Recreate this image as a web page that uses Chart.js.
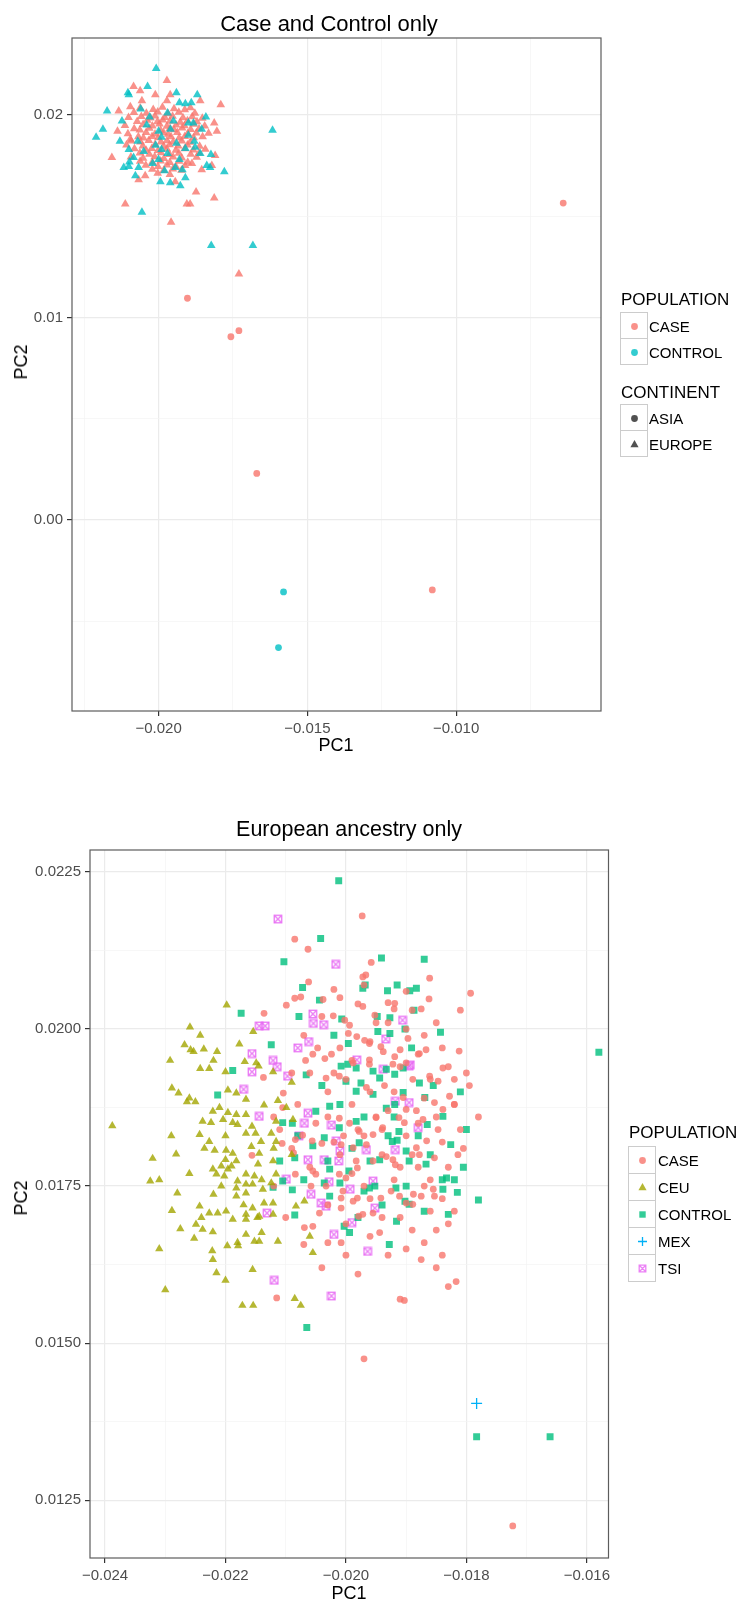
<!DOCTYPE html>
<html>
<head>
<meta charset="utf-8">
<script src="https://cdn.jsdelivr.net/npm/chart.js@4.4.0/dist/chart.umd.min.js"></script>
<style>
  html, body { margin: 0; padding: 0; background: #fff; }
  body { width: 747px; height: 1604px; position: relative; overflow: hidden;
         font-family: "Liberation Sans", Arial, sans-serif; }
  canvas { position: absolute; left: 0; }
  .txt { position: absolute; white-space: nowrap; line-height: 1; color: #000; }
  .ctr { transform: translate(-50%, -50%); }
  .vmid { transform: translateY(-50%); }
  .rot { transform: translate(-50%, -50%) rotate(-90deg); }
  .key { position: absolute; box-sizing: border-box; border: 1px solid #CCCCCC; background: #fff; }
  .key svg { position: absolute; left: 0; top: 0; }
</style>
</head>
<body>
<canvas id="cc" width="747" height="800" style="top:0"></canvas>
<canvas id="eu" width="747" height="804" style="top:800px"></canvas>

<div class="txt ctr" style="left:329px; top:24px; font-size:22px;">Case and Control only</div>
<div class="txt ctr" style="left:336px; top:745px; font-size:18px;">PC1</div>
<div class="txt rot" style="left:21px; top:362px; font-size:18px;">PC2</div>

<div class="txt ctr" style="left:349px; top:830px; font-size:21.5px;">European ancestry only</div>
<div class="txt ctr" style="left:349px; top:1593px; font-size:18px;">PC1</div>
<div class="txt rot" style="left:21px; top:1198px; font-size:18px;">PC2</div>

<div id="legends"></div>

<script>
// ---------- Case and Control only ----------
const ccXTicks = [-0.020, -0.015, -0.010];
const ccYTicks = [0.00, 0.01, 0.02];

// cases, European continent (triangles)
const ccCaseEurope = [
  [-0.01972,0.0217],[-0.02084,0.0214],[-0.02062,0.0212],[-0.02011,0.0210],[-0.01961,0.0210],
  [-0.01972,0.0207],[-0.0186,0.0207],[-0.01791,0.0205],[-0.02134,0.0202],[-0.02095,0.0204],
  [-0.02056,0.0207],[-0.01813,0.0196],[-0.01804,0.0192],[-0.01832,0.0191],[-0.02138,0.0192],
  [-0.02157,0.0179],[-0.02095,0.0188],[-0.0181,0.0180],[-0.01821,0.0175],[-0.01888,0.0176],
  [-0.01855,0.0173],[-0.02067,0.0168],[-0.02045,0.0170],[-0.01944,0.0167],[-0.01874,0.0162],
  [-0.01813,0.0159],[-0.02112,0.0156],[-0.01905,0.0156],[-0.01894,0.0156],[-0.01958,0.0147],
  [-0.0173,0.01215],
  [-0.02062,0.02034],[-0.02018,0.02027],[-0.01987,0.02038],[-0.01948,0.02031],[-0.01912,0.02026],[-0.01893,0.02036],
  [-0.02083,0.02012],[-0.02041,0.02008],[-0.02003,0.02015],[-0.01968,0.02006],[-0.01932,0.02013],[-0.01878,0.02009],
  [-0.02101,0.01987],[-0.02058,0.01992],[-0.02027,0.01985],[-0.02012,0.01995],[-0.01979,0.01988],[-0.01953,0.01994],
  [-0.01918,0.01986],[-0.01887,0.01991],[-0.01853,0.01984],
  [-0.02072,0.01968],[-0.02038,0.01974],[-0.02004,0.01966],[-0.01986,0.01975],[-0.01962,0.01969],[-0.01927,0.01964],
  [-0.01903,0.01972],[-0.01871,0.01966],
  [-0.02113,0.01948],[-0.02052,0.01953],[-0.02021,0.01946],[-0.01997,0.01955],[-0.01972,0.01944],[-0.01941,0.01951],
  [-0.01913,0.01947],[-0.01882,0.01954],[-0.01845,0.01946],
  [-0.02082,0.01932],[-0.02063,0.01926],[-0.02031,0.01934],[-0.01993,0.01925],[-0.01962,0.01933],[-0.01948,0.01927],
  [-0.01921,0.01935],[-0.01892,0.01928],[-0.01864,0.01932],
  [-0.02103,0.01907],[-0.02042,0.01914],[-0.02012,0.01906],[-0.01983,0.01912],[-0.01968,0.01905],[-0.01937,0.01913],
  [-0.01902,0.01908],[-0.01873,0.01911],
  [-0.02068,0.01893],[-0.02051,0.01886],[-0.02022,0.01894],[-0.02001,0.01887],[-0.01958,0.01892],[-0.01931,0.01886],
  [-0.01912,0.01894],[-0.01882,0.01887],[-0.01852,0.01893],
  [-0.02092,0.01872],[-0.02061,0.01866],[-0.02033,0.01874],[-0.01992,0.01867],[-0.01972,0.01873],[-0.01951,0.01866],
  [-0.01922,0.01871],[-0.01894,0.01865],
  [-0.02108,0.01852],[-0.02053,0.01847],[-0.02012,0.01854],[-0.01983,0.01846],[-0.01963,0.01853],[-0.01934,0.01847],
  [-0.01903,0.01852],[-0.01862,0.01845],
  [-0.02081,0.01833],[-0.02042,0.01826],[-0.02023,0.01834],[-0.02002,0.01825],[-0.01972,0.01832],[-0.01942,0.01826],
  [-0.01912,0.01833],[-0.01883,0.01827],[-0.01843,0.01831],
  [-0.02063,0.01812],[-0.02031,0.01806],[-0.01992,0.01813],[-0.01963,0.01805],[-0.01932,0.01811],[-0.01892,0.01806],
  [-0.01864,0.01812],
  [-0.02093,0.01792],[-0.02052,0.01786],[-0.02013,0.01794],[-0.01982,0.01785],[-0.01951,0.01793],[-0.01922,0.01787],
  [-0.01872,0.01791],
  [-0.02062,0.01772],[-0.02021,0.01767],[-0.01993,0.01773],[-0.01962,0.01765],[-0.01931,0.01772],[-0.01902,0.01766],
  [-0.02043,0.01752],[-0.02002,0.01746],[-0.01972,0.01753],[-0.01942,0.01745],[-0.01911,0.01751],
  [-0.02021,0.01732],[-0.01983,0.01726],[-0.01952,0.01733],[-0.01923,0.01727],
  [-0.02003,0.01712],[-0.01962,0.01706]
];
// cases, Asian continent (circles)
const ccCaseAsia = [
  [-0.0064,0.01565],[-0.01903,0.01095],[-0.0173,0.00935],[-0.01757,0.00905],
  [-0.0167,0.0023],[-0.0108,-0.00345]
];
// controls, European continent (triangles)
const ccControlEurope = [
  [-0.02008,0.0223],[-0.02037,0.0214],[-0.0210,0.0210],[-0.0194,0.0211],[-0.0187,0.0210],
  [-0.0193,0.0206],[-0.0191,0.02055],[-0.0189,0.0206],[-0.02173,0.0202],[-0.02123,0.0197],
  [-0.02187,0.0193],[-0.0221,0.0189],[-0.01841,0.0199],[-0.01883,0.0196],[-0.0200,0.0192],
  [-0.01877,0.0184],[-0.0191,0.01835],[-0.0186,0.0181],[-0.01824,0.01805],[-0.02084,0.0179],
  [-0.01838,0.0175],[-0.01827,0.0174],[-0.02117,0.0174],[-0.0210,0.01745],[-0.02067,0.0174],
  [-0.01779,0.0172],[-0.01944,0.0174],[-0.0191,0.0169],[-0.01994,0.0167],[-0.01961,0.01665],
  [-0.01927,0.0165],[-0.02078,0.0170],[-0.02056,0.0152],[-0.02103,0.0211],[-0.02098,0.01768],
  [-0.0204,0.0195],[-0.0199,0.0189],[-0.0196,0.0193],[-0.0201,0.0185],[-0.0205,0.0182],
  [-0.0194,0.0186],[-0.0190,0.0190],[-0.0197,0.0181],[-0.0200,0.0178],[-0.0193,0.0178],
  [-0.0207,0.0187],[-0.0203,0.0199],[-0.0197,0.0201],[-0.0188,0.0187],[-0.0195,0.0197],
  [-0.0202,0.0176],[-0.0198,0.01725],[-0.0210,0.0183],[-0.0192,0.0173],[-0.01855,0.0193],
  [-0.0206,0.0203],[-0.0213,0.0187],[-0.0190,0.0196],[-0.0199,0.0183],
  [-0.01617,0.01925],[-0.01823,0.01355],[-0.01683,0.01355]
];
// controls, Asian continent (circles)
const ccControlAsia = [
  [-0.0158,-0.00355],[-0.01597,-0.0063]
];

// ---------- European ancestry only ----------
const euXTicks = [-0.024, -0.022, -0.020, -0.018, -0.016];
const euYTicks = [0.0125, 0.0150, 0.0175, 0.0200, 0.0225];

const euCase = [
  [-0.02085,0.02143],[-0.02063,0.02127],[-0.02062,0.02075],[-0.02075,0.02051],[-0.02085,0.02049],
  [-0.02099,0.02038],[-0.0202,0.02063],[-0.02038,0.02047],[-0.02136,0.02025],[-0.02021,0.02021],
  [-0.02067,0.0195],[-0.02047,0.0197],[-0.02055,0.0196],[-0.02024,0.0196],[-0.02035,0.01953],
  [-0.02137,0.01923],[-0.02104,0.01898],
  [-0.01973,0.0218],[-0.01958,0.02106],[-0.01972,0.02083],[-0.01967,0.02086],[-0.0193,0.02042],
  [-0.01919,0.02041],[-0.01862,0.02048],[-0.01861,0.02081],[-0.01875,0.02032],[-0.0192,0.02032],
  [-0.01972,0.02036],[-0.01952,0.02022],[-0.01793,0.02057],[-0.01812,0.01965],[-0.01961,0.01977],
  [-0.01969,0.01982],[-0.01942,0.01972],[-0.01938,0.01964],[-0.0191,0.01967],[-0.01919,0.01956],
  [-0.02002,0.02014],[-0.01994,0.02006],[-0.01996,0.01993],[-0.01982,0.01988],[-0.01897,0.01985],
  [-0.01878,0.01961],[-0.01867,0.01967],[-0.01961,0.01951],
  [-0.02105,0.01875],[-0.0211,0.0184],[-0.02084,0.01824],[-0.02072,0.01831],[-0.02106,0.01818],
  [-0.02087,0.01803],[-0.02056,0.01822],[-0.0204,0.01818],[-0.02008,0.01816],[-0.02004,0.0183],
  [-0.01988,0.01811],[-0.01966,0.01816],[-0.01955,0.01832],[-0.0195,0.01859],[-0.01939,0.01843],
  [-0.01912,0.01859],[-0.01903,0.01851],[-0.01883,0.0187],[-0.01853,0.01883],[-0.01839,0.01872],
  [-0.01847,0.0184],[-0.01866,0.01822],[-0.01883,0.01811],[-0.01878,0.018],[-0.01853,0.01795],
  [-0.01814,0.018],[-0.01918,0.01784],[-0.01933,0.01797],[-0.01922,0.01792],[-0.01955,0.0179],
  [-0.01983,0.0179],[-0.01981,0.01779],[-0.02011,0.01769],[-0.02,0.01763],[-0.0205,0.01769],
  [-0.02055,0.01774],[-0.02084,0.01769],[-0.02058,0.0175],[-0.02033,0.0175],[-0.02005,0.01742],
  [-0.01988,0.01726],[-0.01981,0.01731],[-0.02008,0.01731],[-0.02008,0.01715],[-0.01979,0.01702],
  [-0.01972,0.01705],[-0.01955,0.01707],[-0.01942,0.01731],[-0.01925,0.01742],[-0.01911,0.01734],
  [-0.019,0.01723],[-0.01889,0.01721],[-0.01888,0.01737],[-0.01875,0.01734],[-0.01855,0.01745],
  [-0.01853,0.01734],[-0.02055,0.01686],[-0.02069,0.01684],[-0.02044,0.01707],[-0.02008,0.0166],
  [-0.01944,0.01676],[-0.0207,0.01657],[-0.01875,0.01633],[-0.01817,0.01598],[-0.02115,0.01572],
  [-0.02156,0.01799],[-0.02011,0.01858],[-0.01994,0.0185],[-0.01978,0.01837],[-0.019,0.01872],
  [-0.01872,0.01856],
  [-0.02011,0.01925],[-0.01988,0.01946],[-0.01961,0.01944],[-0.01922,0.01944],[-0.019,0.01946],
  [-0.01889,0.0192],[-0.01861,0.01925],[-0.01847,0.01917],[-0.01839,0.01938],[-0.01828,0.01893],
  [-0.01936,0.0191],[-0.01966,0.01907],[-0.02033,0.01922],[-0.01905,0.01891],[-0.0182,0.0188],
  [-0.0180,0.0193],[-0.01795,0.0191],[-0.0178,0.0186],[-0.01805,0.0181],[-0.0182,0.0171],
  [-0.0185,0.0168],[-0.0184,0.0164],[-0.0183,0.0159],[-0.0191,0.0157],[-0.01903,0.01568],
  [-0.0197,0.01475],[-0.01723,0.01209],
  [-0.0203,0.0186],[-0.0199,0.0188],[-0.0196,0.0190],[-0.0193,0.0187],[-0.0190,0.0183],
  [-0.0197,0.0183],[-0.0201,0.0180],[-0.0194,0.0180],[-0.0188,0.0178],[-0.0192,0.0176],
  [-0.0199,0.0177],[-0.0196,0.0173],[-0.0191,0.0170],[-0.0186,0.0171],[-0.0187,0.0189],
  [-0.0185,0.0186],[-0.0202,0.0193],[-0.0199,0.0195],[-0.0191,0.0194],[-0.0188,0.0196],
  [-0.0184,0.0197],[-0.0182,0.0192],[-0.0185,0.0201],[-0.0189,0.0203],[-0.0195,0.0201],
  [-0.0198,0.0204],[-0.0190,0.0206],[-0.0181,0.0203],[-0.0183,0.0178],[-0.0187,0.0175],
  [-0.0184,0.0173],[-0.0196,0.0167],[-0.0193,0.0164],[-0.0200,0.0164],[-0.0204,0.0162],
  [-0.0187,0.0166],[-0.0181,0.0184],[-0.0206,0.0178],[-0.0209,0.0181],[-0.0212,0.0186],
  [-0.0207,0.0199],[-0.0204,0.0202],[-0.0201,0.0205],[-0.0197,0.0207],[-0.0193,0.0201],
  [-0.0187,0.0199],[-0.0183,0.0194],[-0.0186,0.0192],[-0.0192,0.0190],[-0.0195,0.0186],
  [-0.0198,0.0184],[-0.0202,0.0182],[-0.0205,0.0185],[-0.0208,0.0188],[-0.0206,0.0193],
  [-0.0203,0.0190],[-0.0200,0.0192],[-0.0194,0.0184],[-0.0189,0.0180],[-0.0186,0.0176],
  [-0.0191,0.0178],[-0.0197,0.0175],[-0.0203,0.0172],[-0.0200,0.0169],[-0.0194,0.0170],
  [-0.0189,0.0168],[-0.0183,0.0169],[-0.0190,0.0165],[-0.0185,0.0162],[-0.0198,0.0161],
  [-0.0203,0.0166],[-0.0210,0.0170],[-0.0212,0.0175],[-0.0209,0.0193],[-0.0182,0.0188],
  [-0.0184,0.0182],[-0.0188,0.0185],[-0.0201,0.0197],[-0.0196,0.0198],[-0.0190,0.0200]
];

const euCeu = [
  [-0.02198,0.02038],[-0.02259,0.02003],[-0.02242,0.0199],[-0.02268,0.01975],[-0.02258,0.01967],
  [-0.02253,0.01964],[-0.02236,0.01968],[-0.02214,0.01964],[-0.02292,0.0195],[-0.0222,0.0195],
  [-0.02242,0.01937],[-0.02227,0.01937],[-0.02154,0.01996],[-0.02177,0.01976],[-0.022,0.01932],
  [-0.02168,0.01948],[-0.02149,0.01946],[-0.02145,0.01941],[-0.02121,0.01932],[-0.02289,0.01906],
  [-0.02278,0.01898],[-0.02196,0.01903],[-0.02182,0.01898],[-0.0209,0.01915],
  [-0.02264,0.01884],[-0.0225,0.01884],[-0.02166,0.01888],[-0.02136,0.01879],[-0.02113,0.01886],
  [-0.02099,0.01875],[-0.02221,0.01869],[-0.0221,0.01875],[-0.02196,0.01867],[-0.02182,0.01864],
  [-0.02166,0.01864],[-0.02238,0.01853],[-0.02224,0.01851],[-0.02204,0.01856],[-0.02188,0.01851],
  [-0.0218,0.01848],[-0.02156,0.01845],[-0.02116,0.01853],[-0.02088,0.01856],[-0.02243,0.01832],
  [-0.02227,0.01821],[-0.02166,0.01834],[-0.0215,0.01834],[-0.02141,0.01821],[-0.02124,0.01834],
  [-0.02116,0.01821],[-0.02235,0.0181],[-0.02218,0.01807],[-0.02199,0.01807],[-0.02188,0.01802],
  [-0.02157,0.01813],[-0.02144,0.01802],[-0.02321,0.01794],[-0.02282,0.01801],[-0.022,0.01792],
  [-0.02182,0.0179],[-0.02146,0.01785],[-0.02121,0.0179],[-0.02221,0.01777],[-0.02207,0.01782],
  [-0.02196,0.01777],[-0.0219,0.01782],[-0.02215,0.01769],[-0.02202,0.01766],[-0.0218,0.01758],
  [-0.02166,0.01769],[-0.02152,0.01766],[-0.02325,0.01758],[-0.02116,0.01769],[-0.02207,0.0175],
  [-0.02182,0.01747],[-0.02166,0.01753],[-0.02155,0.01753],[-0.02138,0.01745],[-0.02124,0.01755],
  [-0.0228,0.01739],[-0.0222,0.01737],[-0.02182,0.01734],[-0.02166,0.01739],[-0.02136,0.01723],
  [-0.02121,0.01723],[-0.02289,0.01711],[-0.02243,0.01718],[-0.02227,0.01707],[-0.02213,0.01707],
  [-0.02199,0.0171],[-0.02166,0.01705],[-0.02155,0.01715],[-0.02144,0.01702],[-0.02121,0.01705],
  [-0.02249,0.01689],[-0.02238,0.01681],[-0.02275,0.01682],[-0.02188,0.01697],[-0.02166,0.01697],
  [-0.02147,0.017],[-0.02221,0.01677],[-0.02166,0.01673],[-0.0214,0.01676],[-0.02252,0.01667],
  [-0.02197,0.01655],[-0.02179,0.01655],[-0.02152,0.01662],[-0.02144,0.01662],[-0.02113,0.01662],
  [-0.02222,0.01647],[-0.02221,0.01633],[-0.02215,0.01612],[-0.02155,0.01617],[-0.02055,0.01644],
  [-0.02069,0.01726],[-0.02083,0.01718],[-0.02085,0.01571],
  [-0.02388,0.01846],[-0.02172,0.0156],[-0.02154,0.0156],[-0.0230,0.01585],[-0.02075,0.0156],
  [-0.0226,0.0177],[-0.0229,0.0183],[-0.0231,0.0176],[-0.0226,0.0189],[-0.0220,0.0183],
  [-0.0217,0.0172],[-0.0212,0.0181],[-0.0214,0.0176],[-0.0209,0.0180],[-0.0224,0.0170],
  [-0.0220,0.0160],[-0.0218,0.0166],[-0.0231,0.0165],[-0.0206,0.0167]
];

const euControl = [
  [-0.02012,0.02236],[-0.02042,0.02144],[-0.02103,0.02107],[-0.02072,0.02066],[-0.02044,0.02046],
  [-0.02174,0.02025],[-0.02078,0.0202],[-0.02124,0.01975],[-0.02188,0.01934],[-0.0202,0.0199],
  [-0.02213,0.01895],[-0.02066,0.01927],
  [-0.01941,0.02113],[-0.0187,0.02111],[-0.01915,0.0207],[-0.01894,0.02061],[-0.01883,0.02065],
  [-0.01931,0.02061],[-0.01972,0.02065],[-0.01968,0.0207],[-0.01887,0.0203],[-0.01927,0.02018],
  [-0.01948,0.0202],[-0.01902,0.0200],[-0.01843,0.01995],[-0.01891,0.0197],[-0.01947,0.01996],
  [-0.01927,0.01993],[-0.02007,0.02016],[-0.01996,0.01977],
  [-0.02089,0.0185],[-0.02105,0.01851],[-0.02085,0.01795],[-0.02121,0.01748],[-0.02105,0.01758],
  [-0.02089,0.01744],[-0.02027,0.01734],[-0.02085,0.01704],[-0.02003,0.01686],[-0.01994,0.01676],
  [-0.01928,0.01657],[-0.01916,0.01694],[-0.01961,0.01747],[-0.01952,0.0175],[-0.0197,0.01742],
  [-0.02036,0.01827],[-0.02055,0.01814],[-0.02011,0.01843],[-0.01983,0.01853],[-0.01978,0.01819],
  [-0.02027,0.01777],[-0.02036,0.01755],[-0.0201,0.01755],[-0.01944,0.01792],[-0.019,0.01806],
  [-0.01895,0.0179],[-0.01867,0.01785],[-0.01839,0.01745],[-0.01833,0.01763],[-0.01826,0.01816],
  [-0.01865,0.01848],[-0.01839,0.01861],[-0.01912,0.01837],[-0.01923,0.01821],[-0.01915,0.01823],
  [-0.01933,0.01874],[-0.01919,0.0188],[-0.02027,0.01877],[-0.0205,0.01869],[-0.01995,0.01774],
  [-0.01917,0.01747],[-0.01902,0.01726],[-0.01895,0.01721],
  [-0.02008,0.01941],[-0.01997,0.01944],[-0.01983,0.01938],[-0.01955,0.01933],[-0.01944,0.01922],
  [-0.01919,0.01928],[-0.01905,0.01938],[-0.01878,0.01914],[-0.01869,0.01891],[-0.01855,0.0191],
  [-0.01905,0.01899],[-0.01955,0.01896],[-0.01983,0.01901],[-0.0200,0.01917],[-0.01975,0.01914],
  [-0.01933,0.01936],
  [-0.0181,0.0190],[-0.0180,0.0184],[-0.01805,0.0178],[-0.0182,0.0176],[-0.01815,0.0174],
  [-0.0178,0.01728],[-0.0183,0.01705],
  [-0.0204,0.0191],[-0.0201,0.0188],[-0.0197,0.0186],[-0.0193,0.0183],[-0.0196,0.0179],
  [-0.0199,0.0181],[-0.0203,0.0179],[-0.0207,0.0176],[-0.0192,0.0186],[-0.0188,0.0183],
  [-0.0186,0.0180],[-0.0190,0.0175],[-0.0194,0.0172],[-0.0198,0.0170],[-0.0187,0.0171],
  [-0.0184,0.0176],[-0.0208,0.0183],[-0.0211,0.0179],
  [-0.0158,0.01963],[-0.01783,0.01351],[-0.01661,0.01351],[-0.02065,0.01525]
];

const euMex = [
  [-0.01783,0.01404]
];

const euTsi = [
  [-0.02113,0.02175],[-0.02017,0.02103],[-0.02144,0.02005],[-0.02134,0.02005],[-0.02055,0.02024],
  [-0.02054,0.02009],[-0.02037,0.02007],[-0.02062,0.0198],[-0.0208,0.0197],[-0.02156,0.01961],
  [-0.02121,0.0195],[-0.02114,0.0194],[-0.02156,0.01932],[-0.02097,0.01925],[-0.0217,0.01904],
  [-0.01906,0.02014],[-0.01934,0.01984],[-0.01893,0.01943],[-0.01982,0.01951],
  [-0.02144,0.01861],[-0.02099,0.01761],[-0.02058,0.01737],[-0.02063,0.01792],[-0.02078,0.0183],
  [-0.02041,0.01723],[-0.02033,0.01718],[-0.02028,0.01757],[-0.02131,0.01707],[-0.0202,0.01673],
  [-0.01993,0.01745],[-0.0199,0.01692],[-0.01952,0.01715],[-0.01964,0.01646],[-0.02119,0.016],
  [-0.02024,0.01575],[-0.02069,0.0185],[-0.02063,0.01866],[-0.02024,0.01847],[-0.02016,0.01822],
  [-0.0201,0.01806],[-0.01966,0.01808],[-0.01918,0.01808],[-0.01895,0.01883],[-0.0188,0.01843],
  [-0.01955,0.01758],[-0.02036,0.01792],[-0.02012,0.0179],
  [-0.01938,0.01936],[-0.01895,0.01941],[-0.01918,0.01885]
];

// ---------- colours ----------
const COL = {
  case: 'rgba(248,118,109,0.8)',
  ccControl: 'rgba(0,191,196,0.8)',
  ceu: 'rgba(163,165,0,0.8)',
  euControl: 'rgba(0,191,125,0.8)',
  mex: '#00B0F6',
  tsi: 'rgba(231,107,243,0.85)',
  dark: 'rgba(51,51,51,0.85)'
};
const FONT = '"Liberation Sans", Arial, sans-serif';

// square with a diagonal cross, used for the TSI group
function boxCross(color) {
  const c = document.createElement('canvas');
  c.width = 10; c.height = 10;
  const g = c.getContext('2d');
  g.strokeStyle = color; g.lineWidth = 1.4;
  g.strokeRect(1.3, 1.3, 7.4, 7.4);
  g.beginPath();
  g.moveTo(1.3, 1.3); g.lineTo(8.7, 8.7);
  g.moveTo(8.7, 1.3); g.lineTo(1.3, 8.7);
  g.stroke();
  return c;
}

const toXY = pts => pts.map(([x, y]) => ({ x, y }));
const fmt = (v, d) => v.toFixed(d).replace('-', '\u2212');

function axis(min, max, step, majors, digits, reserve, isX) {
  const majorOf = v => majors.find(m => Math.abs(m - v) < step * 1e-3);
  const isMajor = c => c.tick && majorOf(c.tick.value) !== undefined;
  return {
    type: 'linear', min, max,
    ticks: {
      stepSize: step, includeBounds: false, autoSkip: false, maxRotation: 0, minRotation: 0,
      padding: 4, color: '#4D4D4D', font: { family: FONT, size: 15 },
      callback: v => { const m = majorOf(v); return m === undefined ? '' : fmt(m, digits); }
    },
    grid: {
      color: c => isMajor(c) ? '#EBEBEB' : '#F4F4F4',
      lineWidth: c => isMajor(c) ? 1.2 : 0.7,
      tickColor: c => isMajor(c) ? '#333333' : 'rgba(0,0,0,0)',
      tickLength: 5, drawTicks: true
    },
    border: { display: false },
    afterFit: s => { if (isX) s.height = reserve; else s.width = reserve; }
  };
}

const panelBorder = {
  id: 'panelBorder',
  afterDraw(chart) {
    const { ctx, chartArea: a } = chart;
    ctx.save();
    ctx.strokeStyle = '#5C5C5C';
    ctx.lineWidth = 1.2;
    ctx.strokeRect(a.left, a.top, a.right - a.left, a.bottom - a.top);
    ctx.restore();
  }
};

function pointSet(data, style, color, radius, extra) {
  return Object.assign({
    data: toXY(data), pointStyle: style, pointRadius: radius, pointHoverRadius: radius,
    backgroundColor: color, borderColor: color, borderWidth: 0, showLine: false
  }, extra || {});
}

const common = {
  responsive: false, animation: false, events: [],
  plugins: { legend: { display: false }, tooltip: { enabled: false } }
};

new Chart(document.getElementById('cc'), {
  type: 'scatter',
  data: { datasets: [
    pointSet(ccControlEurope, 'triangle', COL.ccControl, 5),
    pointSet(ccCaseEurope, 'triangle', COL.case, 5),
    pointSet(ccCaseAsia, 'circle', COL.case, 3.4),
    pointSet(ccControlAsia, 'circle', COL.ccControl, 3.4)
  ]},
  options: Object.assign({}, common, {
    layout: { padding: { left: 0, right: 146, top: 38, bottom: 0 } },
    scales: {
      x: axis(-0.02291, -0.00513, 0.0025, ccXTicks, 3, 89, true),
      y: axis(-0.00943, 0.0238, 0.005, ccYTicks, 2, 72, false)
    }
  }),
  plugins: [panelBorder]
});

new Chart(document.getElementById('eu'), {
  type: 'scatter',
  data: { datasets: [
    pointSet(euCeu, 'triangle', COL.ceu, 4.8),
    pointSet(euCase, 'circle', COL.case, 3.4),
    pointSet(euControl, 'rect', COL.euControl, 4.9),
    pointSet(euTsi, boxCross(COL.tsi), COL.tsi, 5),
    pointSet(euMex, 'cross', COL.mex, 5.5, { borderWidth: 1.3, backgroundColor: 'rgba(0,0,0,0)' })
  ]},
  options: Object.assign({}, common, {
    layout: { padding: { left: 0, right: 138.5, top: 50, bottom: 0 } },
    scales: {
      x: axis(-0.02425, -0.01564, 0.001, euXTicks, 3, 46, true),
      y: axis(0.01158, 0.02285, 0.00125, euYTicks, 4, 90, false)
    }
  }),
  plugins: [panelBorder]
});

// ---------- legends ----------
const glyph = {
  circle: c => `<circle cx="13.5" cy="13.5" r="3.4" fill="${c}"/>`,
  triangle: c => `<polygon points="13.5,9 17.6,16.2 9.4,16.2" fill="${c}"/>`,
  square: c => `<rect x="10.3" y="10.3" width="6.4" height="6.4" fill="${c}"/>`,
  plus: c => `<path d="M13.5 9 V18 M9 13.5 H18" stroke="${c}" stroke-width="1.3"/>`,
  boxcross: c => `<path d="M10.2 10.2 h6.6 v6.6 h-6.6 z M10.2 10.2 L16.8 16.8 M16.8 10.2 L10.2 16.8" fill="none" stroke="${c}" stroke-width="1.3"/>`
};

function legend(x, titleY, title, rowTop, rowStep, textX, items) {
  let html = `<div class="txt vmid" style="left:${x}px; top:${titleY}px; font-size:17px;">${title}</div>`;
  items.forEach((it, i) => {
    const top = rowTop + i * rowStep;
    html += `<div class="key" style="left:${x - 1}px; top:${top}px; width:28px; height:${rowStep + 1}px;">` +
            `<svg width="27" height="27" viewBox="0 0 27 27">${glyph[it.shape](it.color)}</svg></div>`;
    html += `<div class="txt vmid" style="left:${textX}px; top:${top + (rowStep + 1) / 2}px; font-size:15px;">${it.label}</div>`;
  });
  return html;
}

document.getElementById('legends').innerHTML =
  legend(621, 299, 'POPULATION', 312, 26, 649, [
    { label: 'CASE', shape: 'circle', color: COL.case },
    { label: 'CONTROL', shape: 'circle', color: COL.ccControl }
  ]) +
  legend(621, 392, 'CONTINENT', 404, 26, 649, [
    { label: 'ASIA', shape: 'circle', color: COL.dark },
    { label: 'EUROPE', shape: 'triangle', color: COL.dark }
  ]) +
  legend(629, 1132, 'POPULATION', 1146, 27, 658, [
    { label: 'CASE', shape: 'circle', color: COL.case },
    { label: 'CEU', shape: 'triangle', color: COL.ceu },
    { label: 'CONTROL', shape: 'square', color: COL.euControl },
    { label: 'MEX', shape: 'plus', color: COL.mex },
    { label: 'TSI', shape: 'boxcross', color: COL.tsi }
  ]);
</script>
</body>
</html>
